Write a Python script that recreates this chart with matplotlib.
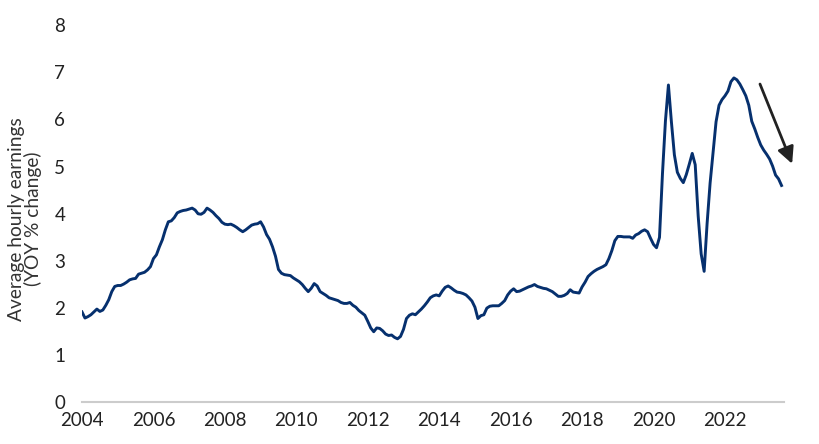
import numpy as np
import matplotlib
matplotlib.use("Agg")
import matplotlib.pyplot as plt

plt.rcParams['font.family'] = ['Lato', 'DejaVu Sans']

# average hourly earnings, YoY % change, monthly Jan 2004 - Aug 2023
y2004 = [1.92, 1.79, 1.82, 1.86, 1.92, 1.98, 1.93, 1.96, 2.06, 2.18, 2.35, 2.46]
y2005 = [2.48, 2.48, 2.51, 2.55, 2.60, 2.62, 2.63, 2.72, 2.74, 2.76, 2.81, 2.88]
y2006 = [3.05, 3.13, 3.30, 3.45, 3.66, 3.83, 3.85, 3.92, 4.02, 4.05, 4.07, 4.08]
y2007 = [4.10, 4.12, 4.08, 4.00, 3.99, 4.03, 4.12, 4.08, 4.03, 3.96, 3.90, 3.82]
y2008 = [3.78, 3.77, 3.78, 3.75, 3.71, 3.66, 3.62, 3.66, 3.71, 3.76, 3.78, 3.79]
y2009 = [3.83, 3.72, 3.56, 3.46, 3.30, 3.10, 2.82, 2.74, 2.71, 2.70, 2.69, 2.64]
y2010 = [2.60, 2.56, 2.50, 2.42, 2.35, 2.42, 2.52, 2.47, 2.35, 2.31, 2.27, 2.22]
y2011 = [2.20, 2.18, 2.16, 2.12, 2.10, 2.10, 2.12, 2.06, 2.02, 1.95, 1.90, 1.85]
y2012 = [1.72, 1.58, 1.50, 1.58, 1.57, 1.52, 1.45, 1.42, 1.43, 1.38, 1.35, 1.40]
y2013 = [1.55, 1.78, 1.85, 1.88, 1.86, 1.92, 1.98, 2.05, 2.13, 2.22, 2.26, 2.28]
y2014 = [2.26, 2.36, 2.44, 2.47, 2.43, 2.38, 2.34, 2.33, 2.31, 2.28, 2.22, 2.15]
y2015 = [2.02, 1.78, 1.84, 1.86, 2.00, 2.04, 2.05, 2.05, 2.05, 2.10, 2.16, 2.28]
y2016 = [2.36, 2.41, 2.35, 2.36, 2.39, 2.42, 2.45, 2.47, 2.50, 2.46, 2.44, 2.42]
y2017 = [2.41, 2.38, 2.35, 2.30, 2.25, 2.25, 2.27, 2.31, 2.39, 2.34, 2.33, 2.32]
y2018 = [2.45, 2.55, 2.67, 2.73, 2.78, 2.82, 2.85, 2.88, 2.92, 3.05, 3.22, 3.43]
y2019 = [3.52, 3.52, 3.51, 3.51, 3.51, 3.48, 3.55, 3.58, 3.63, 3.66, 3.62, 3.48]
y2020 = [3.35, 3.28, 3.50, 4.85, 5.97, 6.73, 5.95, 5.25, 4.88, 4.75, 4.66, 4.83]
y2021 = [5.05, 5.28, 5.04, 3.95, 3.15, 2.78, 3.80, 4.65, 5.30, 5.95, 6.30, 6.42]
y2022 = [6.50, 6.60, 6.80, 6.88, 6.84, 6.75, 6.63, 6.50, 6.30, 5.96, 5.80, 5.62]
y2023 = [5.46, 5.35, 5.26, 5.16, 5.01, 4.82, 4.74, 4.60]

xticks = list(range(2004, 2024, 2))
yticks = list(range(0, 9))

# arrow showing the recent trend
arrow_from = (2022.98, 6.75)
arrow_to = (2023.88, 5.06)

values = (y2004 + y2005 + y2006 + y2007 + y2008 + y2009 + y2010 + y2011 + y2012 + y2013 +
          y2014 + y2015 + y2016 + y2017 + y2018 + y2019 + y2020 + y2021 + y2022 + y2023)
t = 2004 + np.arange(len(values)) / 12.0

fig = plt.figure(figsize=(8.2, 4.44), dpi=100)
ax = fig.add_axes([0.1, 0.0935, 0.856, 0.850])

ax.plot(t, values, color='#06306e', lw=2.1, solid_joinstyle='round')

ax.annotate('', xy=arrow_to, xytext=arrow_from, annotation_clip=False,
            arrowprops=dict(arrowstyle='-|>,head_length=1.0,head_width=0.5',
                            color='#222222', lw=2.0, shrinkA=0, shrinkB=0))

ax.set_xlim(2004, 2023.65)
ax.set_ylim(0, 8)
ax.set_xticks(xticks)
ax.set_yticks(yticks)
ax.tick_params(axis='both', length=0, labelsize=13.5, labelcolor='#222222')
ax.tick_params(axis='y', pad=12)
ax.tick_params(axis='x', pad=6.5)

for s in ['top', 'right', 'left']:
    ax.spines[s].set_visible(False)
ax.spines['bottom'].set_color('#cccccc')
ax.spines['bottom'].set_linewidth(1.5)

fig.text(25 / 820, 0.507, 'Average hourly earnings\n(YOY % change)', rotation=90,
         ha='center', va='center', multialignment='center', fontsize=13.8,
         color='#333333', linespacing=0.92)

fig.savefig('out.png', dpi=100)
